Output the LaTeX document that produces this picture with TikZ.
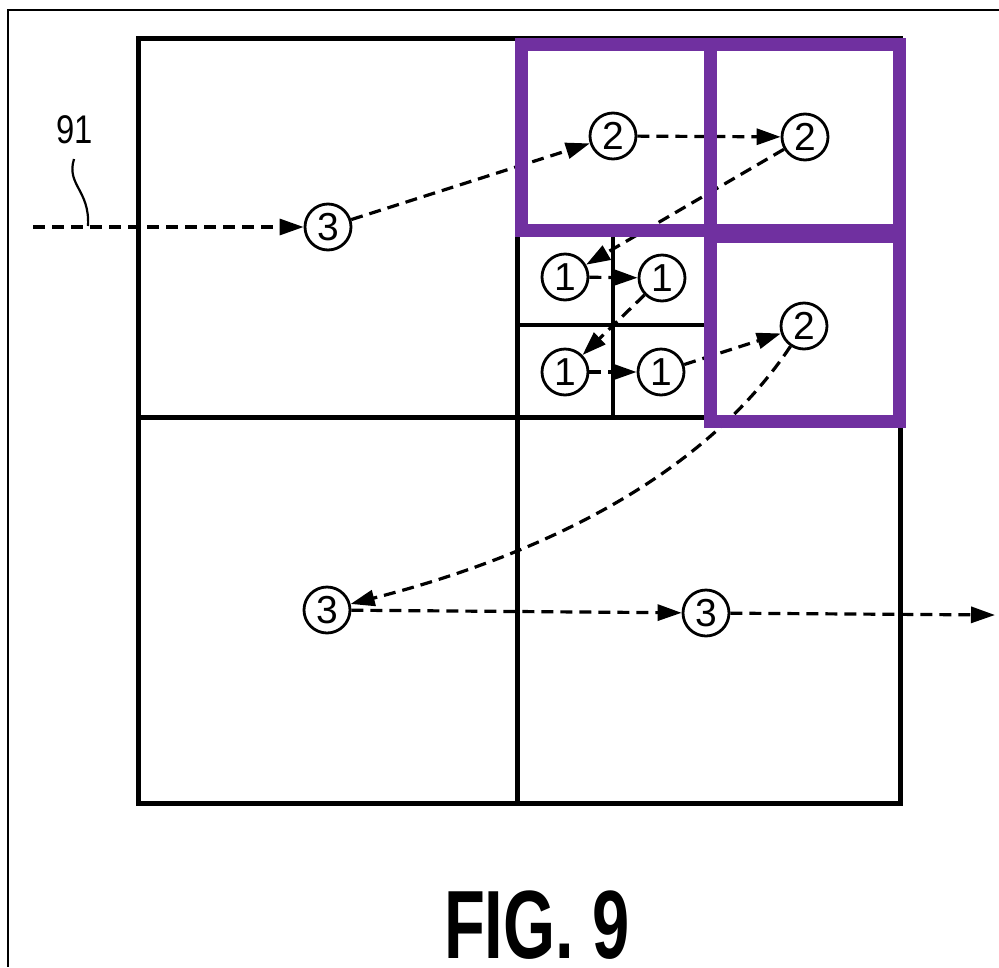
\documentclass[tikz,border=0pt]{standalone}
\usepackage{fontspec}
\setmainfont{Liberation Sans}
\usetikzlibrary{arrows.meta}
\definecolor{boxpurple}{RGB}{112,48,160}
\begin{document}
\begin{tikzpicture}[x=1pt,y=-1pt,
  frameline/.style={line width=2.2pt,black},
  gridline/.style={line width=5pt,black,line cap=rect},
  subline/.style={line width=4.5pt,black},
  conn/.style={line width=3.2pt,dash pattern=on 12pt off 7pt,-{Triangle[length=24pt,width=16pt]}},
  numcirc/.style={circle,draw,line width=2.8pt,fill=white,minimum size=46pt,inner sep=0pt,font=\fontsize{39}{39}\selectfont},
  hilite/.style={draw=boxpurple,line width=13pt},
  leader/.style={line width=2.2pt}]
\useasboundingbox (0,0) rectangle (999,967);
% outer frame (top and left edges)
\draw[frameline] (999,10) -- (8,10) -- (8,967);
% main grid
\draw[gridline] (138,38) rectangle (900,803);
\draw[gridline] (517,38) -- (517,803);
\draw[gridline] (138,417) -- (900,417);
\draw[subline] (709,38) -- (709,417);
\draw[subline] (517,230) -- (900,230);
\draw[subline] (613,230) -- (613,417);
\draw[subline] (517,325) -- (709,325);
% numbered circles
\node[numcirc] (c3a) at (328,227) {3};
\node[numcirc] (c2a) at (613,136) {2};
\node[numcirc] (c2b) at (805,137) {2};
\node[numcirc] (c1a) at (565,277) {1};
\node[numcirc] (c1b) at (662,278) {1};
\node[numcirc] (c1c) at (565,372) {1};
\node[numcirc] (c1d) at (661,372) {1};
\node[numcirc] (c2c) at (804,326) {2};
\node[numcirc] (c3b) at (327,610) {3};
\node[numcirc] (c3c) at (706,613) {3};
\coordinate (in) at (33,227);
\coordinate (out) at (995,615);
% connectors
\draw[conn] (in) -- (c3a);
\draw[conn] (c3a) -- (c2a);
\draw[conn] (c2a) -- (c2b);
\draw[conn] (c2b) -- (c1a);
\draw[conn] (c1a) -- (c1b);
\draw[conn] (c1b) -- (c1c);
\draw[conn] (c1c) -- (c1d);
\draw[conn] (c1d) -- (c2c);
\draw[conn] (c2c) .. controls +(-100,150) and +(215,-55) .. (c3b);
\draw[conn] (c3b) -- (c3c);
\draw[conn] (c3c) -- (out);
% label 91
\node[font=\fontsize{40}{40}\selectfont,inner sep=0pt] (l91) at (75,130) {\scalebox{0.82}[1]{91}};
\coordinate (l91a) at (74,159);
\coordinate (l91b) at (88,226);
\draw[leader] (l91a) .. controls (66,185) and (90,190) .. (l91b);
% highlight boxes
\draw[hilite] (521.5,44) rectangle (710,230);
\draw[hilite] (710,44) rectangle (899,230);
\draw[hilite] (710,236.5) rectangle (899,421.5);
% caption
\node[anchor=base,inner sep=0pt,font=\fontsize{97}{97}\selectfont\bfseries] (cap) at (537,958) {\scalebox{0.69}[1]{FIG. 9}};
\end{tikzpicture}
\end{document}
